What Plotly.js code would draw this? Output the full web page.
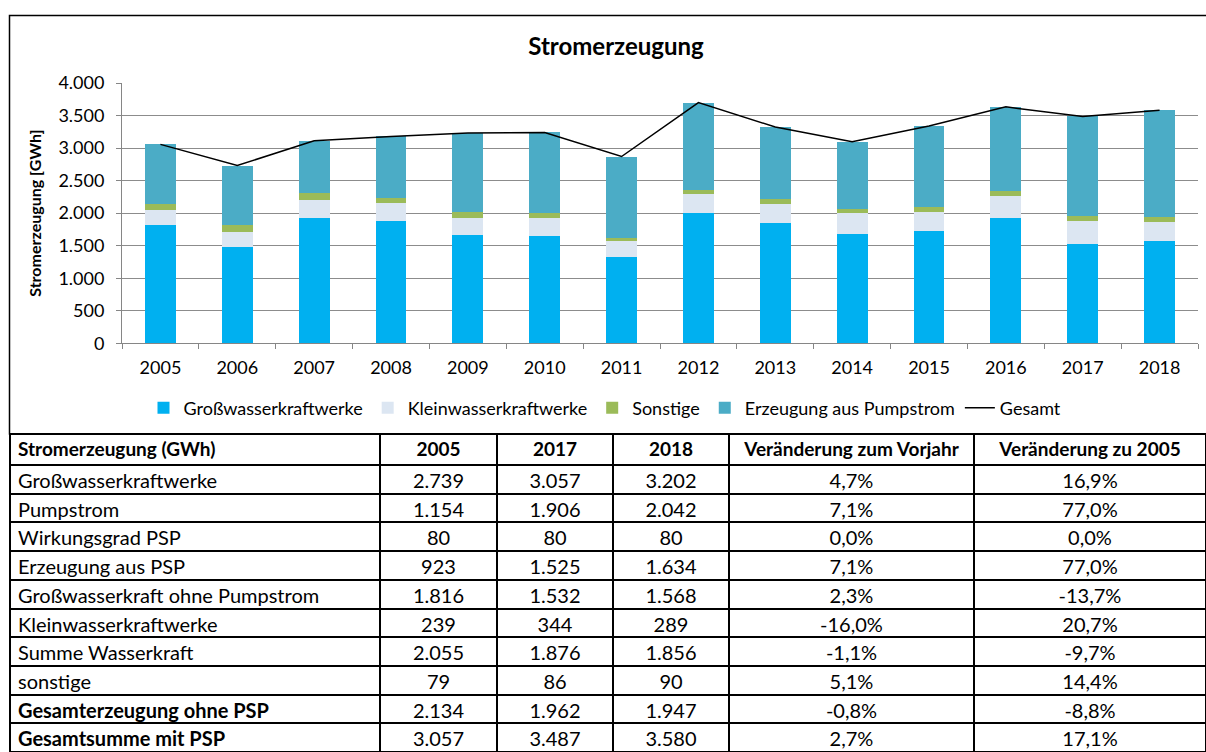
<!DOCTYPE html>
<html>
<head>
<meta charset="utf-8">
<script src="https://cdn.plot.ly/plotly-3.0.1.min.js"></script>
<style>
html,body{margin:0;padding:0;background:#fff;}
#chart{width:1206px;height:752px;}
</style>
</head>
<body>
<div id="chart"></div>
<script>
// ---- Chart data (GWh) ----
var years = ["2005","2006","2007","2008","2009","2010","2011","2012","2013","2014","2015","2016","2017","2018"];
var grossWasser = [1816,1480,1930,1880,1660,1650,1322,2000,1845,1687,1733,1928,1532,1568];
var kleinWasser = [239,237,268,280,268,278,252,292,293,308,282,328,344,289];
var sonstige    = [79,103,117,73,87,72,51,66,72,71,82,87,86,90];
var pumpstrom   = [923,912,797,945,1216,1240,1245,1342,1113,1031,1243,1290,1525,1634];
var gesamt      = [3057,2732,3112,3178,3231,3240,2870,3700,3323,3097,3340,3633,3487,3580];

// ---- Table data ----
var tableHeader = ["Stromerzeugung (GWh)","2005","2017","2018","Veränderung zum Vorjahr","Veränderung zu 2005"];
var rowLabels = ["Großwasserkraftwerke","Pumpstrom","Wirkungsgrad PSP","Erzeugung aus PSP","Großwasserkraft ohne Pumpstrom","Kleinwasserkraftwerke","Summe Wasserkraft","sonstige","Gesamterzeugung ohne PSP","Gesamtsumme mit PSP"];
var boldRows = [false,false,false,false,false,false,false,false,true,true];
var col2005 = ["2.739","1.154","80","923","1.816","239","2.055","79","2.134","3.057"];
var col2017 = ["3.057","1.906","80","1.525","1.532","344","1.876","86","1.962","3.487"];
var col2018 = ["3.202","2.042","80","1.634","1.568","289","1.856","90","1.947","3.580"];
var colVorjahr = ["4,7%","7,1%","0,0%","7,1%","2,3%","-16,0%","-1,1%","5,1%","-0,8%","2,7%"];
var colZu2005 = ["16,9%","77,0%","0,0%","77,0%","-13,7%","20,7%","-9,7%","14,4%","-8,8%","17,1%"];

var W = 1206, H = 752;
function px(x){ return x / W; }
function py(y){ return 1 - y / H; }

var FONT = "Lato, 'Open Sans', sans-serif";

var firstColWeights = boldRows.map(function(b){ return b ? "bold" : "normal"; });
var normalWeights = rowLabels.map(function(){ return "normal"; });

var traces = [
  {type:"bar", name:"Großwasserkraftwerke", x:years, y:grossWasser, marker:{color:"#00B0F0"}, xaxis:"x", yaxis:"y"},
  {type:"bar", name:"Kleinwasserkraftwerke", x:years, y:kleinWasser, marker:{color:"#DCE6F2"}, xaxis:"x", yaxis:"y"},
  {type:"bar", name:"Sonstige", x:years, y:sonstige, marker:{color:"#9BBB59"}, xaxis:"x", yaxis:"y"},
  {type:"bar", name:"Erzeugung aus Pumpstrom", x:years, y:pumpstrom, marker:{color:"#4BACC6"}, xaxis:"x", yaxis:"y"},
  {type:"scatter", mode:"lines", name:"Gesamt", x:years, y:gesamt, line:{color:"#000000", width:1.5}, xaxis:"x", yaxis:"y"},
  {
    type:"table",
    domain:{x:[px(10), 1], y:[0, py(434)]},
    columnwidth:[370,117,116,116,245,232],
    header:{
      values: tableHeader,
      align:["left","center","center","center","center","center"],
      height:31,
      line:{color:"#000000", width:2},
      fill:{color:"#ffffff"},
      font:{family:FONT, size:19, color:"#000000", weight:"bold"}
    },
    cells:{
      values:[rowLabels, col2005, col2017, col2018, colVorjahr, colZu2005],
      align:["left","center","center","center","center","center"],
      height:28.7,
      line:{color:"#000000", width:2},
      fill:{color:"#ffffff"},
      font:{family:FONT, size:20, color:"#000000",
            weight:[firstColWeights, normalWeights, normalWeights, normalWeights, normalWeights, normalWeights]}
    },
    showlegend:false
  }
];

var layout = {
  width:W, height:H,
  margin:{l:0, r:0, t:0, b:0},
  paper_bgcolor:"#ffffff",
  plot_bgcolor:"#ffffff",
  separators:",.",
  font:{family:FONT, color:"#000000"},
  barmode:"stack",
  bargap:0.6,
  title:{
    text:"<b>Stromerzeugung</b>",
    x:px(616), xanchor:"center",
    y:py(47), yanchor:"middle",
    font:{family:FONT, size:24, color:"#000000"}
  },
  xaxis:{
    domain:[px(122), px(1198)],
    anchor:"y",
    type:"category",
    showgrid:false,
    showline:true, linecolor:"#868686", linewidth:1,
    ticks:"outside", tickson:"boundaries", ticklen:5, tickcolor:"#868686",
    tickfont:{family:FONT, size:18, color:"#000000"},
    ticklabelstandoff:8
  },
  yaxis:{
    domain:[py(343.3), py(83)],
    anchor:"x",
    range:[0,4000],
    dtick:500,
    tickformat:",.0f",
    showgrid:true, gridcolor:"#8c8c8c", gridwidth:1,
    zeroline:false,
    showline:true, linecolor:"#868686", linewidth:1,
    ticks:"outside", ticklen:5, tickcolor:"#868686",
    tickfont:{family:FONT, size:18, color:"#000000"},
    ticklabelstandoff:8,
    title:{text:"<b>Stromerzeugung [GWh]</b>", font:{family:FONT, size:16, color:"#000000"}, standoff:12}
  },
  showlegend:true,
  legend:{
    orientation:"h",
    x:px(605), xanchor:"center",
    y:py(408), yanchor:"middle",
    font:{family:FONT, size:18, color:"#000000"},
    bgcolor:"rgba(0,0,0,0)",
    traceorder:"normal"
  },
  shapes:[
    {type:"rect", xref:"paper", yref:"paper", x0:px(9.5), x1:1.05, y0:py(434), y1:py(15.5),
     line:{color:"#000000", width:1.5}, fillcolor:"rgba(0,0,0,0)", layer:"below"}
  ]
};

Plotly.newPlot("chart", traces, layout, {displayModeBar:false, staticPlot:true});
</script>
</body>
</html>
